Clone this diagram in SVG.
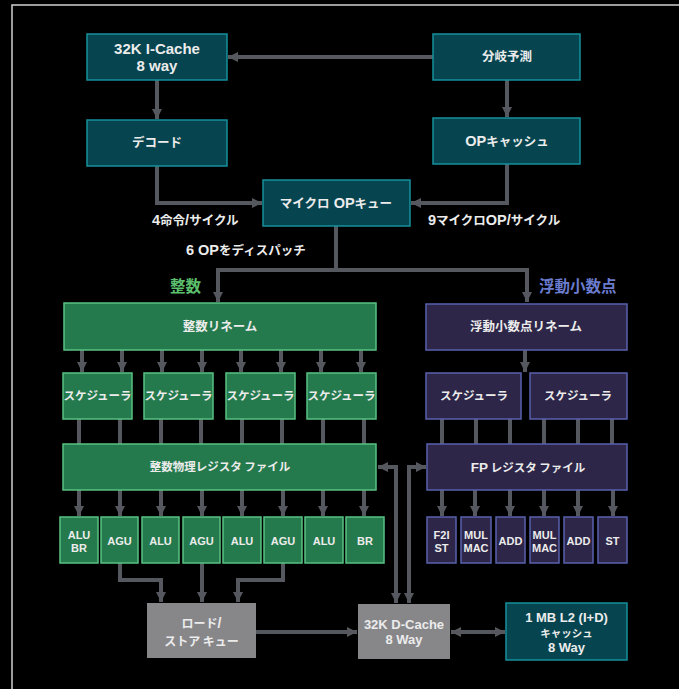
<svg xmlns="http://www.w3.org/2000/svg" width="679" height="689" viewBox="0 0 679 689">
<defs>
<style>
.bg{fill:#000}
.teal{fill:#06454f;stroke:#16909b;stroke-width:1.5}
.grn{fill:#247a4d;stroke:#58c283;stroke-width:1.5}
.pur{fill:#2d2648;stroke:#5a62ae;stroke-width:1.5}
.gry{fill:#87878a}
text{font-family:"Noto Sans CJK JP","Noto Sans",sans-serif;font-weight:bold;fill:#ececec;text-anchor:middle;font-size:12.5px}
.L{font-family:"Liberation Sans",Arial,"Noto Sans CJK JP",sans-serif;font-weight:bold}
.s{font-size:11.5px}
.u{font-family:"Liberation Sans",Arial,sans-serif;font-weight:bold;font-size:11px}
.lbl{text-anchor:start}
.c{fill:none;stroke:#56585f;stroke-width:4}
</style>
<marker id="ah" viewBox="0 0 10 10" refX="10" refY="5" markerWidth="10" markerHeight="10" markerUnits="userSpaceOnUse" orient="auto-start-reverse">
<path d="M0,0 L10,5 L0,10 z" fill="#56585f"/>
</marker>
</defs>
<rect class="bg" x="0" y="0" width="679" height="689"/>
<path d="M12,689 V5 H679" fill="none" stroke="#d0d0d0" stroke-width="1.5"/>

<g id="connectors">
<path class="c" d="M433,57 H228" marker-end="url(#ah)"/>
<path class="c" d="M157,80 V119" marker-end="url(#ah)"/>
<path class="c" d="M507,80 V117" marker-end="url(#ah)"/>
<path class="c" d="M157,166 V203 H262" marker-end="url(#ah)"/>
<path class="c" d="M507,164 V203 H411" marker-end="url(#ah)"/>
<path class="c" d="M336,226 V270"/>
<path class="c" d="M218,270 H527"/>
<path class="c" d="M218,268 V302" marker-end="url(#ah)"/>
<path class="c" d="M527,268 V302" marker-end="url(#ah)"/>
<path class="c" d="M82,350 V372" marker-end="url(#ah)"/>
<path class="c" d="M122,350 V372" marker-end="url(#ah)"/>
<path class="c" d="M162,350 V372" marker-end="url(#ah)"/>
<path class="c" d="M202,350 V372" marker-end="url(#ah)"/>
<path class="c" d="M241,350 V372" marker-end="url(#ah)"/>
<path class="c" d="M281,350 V372" marker-end="url(#ah)"/>
<path class="c" d="M321,350 V372" marker-end="url(#ah)"/>
<path class="c" d="M361,350 V372" marker-end="url(#ah)"/>
<path class="c" d="M79,419 V444 M120,419 V444 M161,419 V444 M201,419 V444 M242,419 V444 M282,419 V444 M323,419 V444 M364,419 V444"/>
<path class="c" d="M79,490 V516" marker-end="url(#ah)"/>
<path class="c" d="M120,490 V516" marker-end="url(#ah)"/>
<path class="c" d="M161,490 V516" marker-end="url(#ah)"/>
<path class="c" d="M202,490 V516" marker-end="url(#ah)"/>
<path class="c" d="M242,490 V516" marker-end="url(#ah)"/>
<path class="c" d="M283,490 V516" marker-end="url(#ah)"/>
<path class="c" d="M323,490 V516" marker-end="url(#ah)"/>
<path class="c" d="M364,490 V516" marker-end="url(#ah)"/>
<path class="c" d="M120,563 V580 H161 V602" marker-end="url(#ah)"/>
<path class="c" d="M202,563 V602" marker-end="url(#ah)"/>
<path class="c" d="M283,563 V580 H238 V602" marker-end="url(#ah)"/>
<path class="c" d="M525,350 V372" marker-end="url(#ah)"/>
<path class="c" d="M442,419 V444 M476,419 V444 M510,419 V444 M544,419 V444 M578,419 V444 M612,419 V444"/>
<path class="c" d="M442,490 V516" marker-end="url(#ah)"/>
<path class="c" d="M475,490 V516" marker-end="url(#ah)"/>
<path class="c" d="M510,490 V516" marker-end="url(#ah)"/>
<path class="c" d="M544,490 V516" marker-end="url(#ah)"/>
<path class="c" d="M578,490 V516" marker-end="url(#ah)"/>
<path class="c" d="M613,490 V516" marker-end="url(#ah)"/>
<path class="c" d="M378,467 H396 V603" marker-start="url(#ah)" marker-end="url(#ah)"/>
<path class="c" d="M426,467 H409 V603" marker-start="url(#ah)" marker-end="url(#ah)"/>
<path class="c" d="M256,632 H357" marker-end="url(#ah)"/>
<path class="c" d="M451,632 H505" marker-start="url(#ah)" marker-end="url(#ah)"/>
</g>

<g id="icache"><rect class="teal" x="87" y="34" width="140" height="46"/><text class="L" style="font-size:15px" x="157" y="53.5">32K I-Cache</text><text class="L" style="font-size:15px" x="157" y="70.5">8 way</text></g>
<g id="branch"><rect class="teal" x="433" y="34" width="147" height="46"/><text x="507" y="61">分岐予測</text></g>
<g id="decode"><rect class="teal" x="87" y="120" width="140" height="46"/><text x="157" y="147">デコード</text></g>
<g id="opcache"><rect class="teal" x="433" y="118" width="147" height="46"/><text x="507" y="146"><tspan class="L" style="font-size:14.5px">OP</tspan>キャッシュ</text></g>
<g id="uopq"><rect class="teal" x="263" y="180" width="147" height="46"/><text x="336" y="208">マイクロ<tspan class="L" style="font-size:14.5px"> OP</tspan>キュー</text></g>

<g id="labels">
<text class="lbl" x="152" y="225"><tspan class="L" style="font-size:14.5px">4</tspan>命令<tspan class="L" style="font-size:14.5px">/</tspan>サイクル</text>
<text class="lbl" x="428" y="225"><tspan class="L" style="font-size:14.5px">9</tspan>マイクロ<tspan class="L" style="font-size:14.5px">OP/</tspan>サイクル</text>
<text class="lbl" x="186" y="255"><tspan class="L" style="font-size:14.5px">6 OP</tspan>をディスパッチ</text>
<text class="lbl" x="170" y="292" style="fill:#5cc06e;font-size:15.5px">整数</text>
<text class="lbl" x="539" y="292" style="fill:#6b7ccf;font-size:15.5px">浮動小数点</text>
</g>

<g id="int-rename"><rect class="grn" x="64" y="303" width="312" height="47"/><text x="220" y="331">整数リネーム</text></g>
<g id="int-sch1"><rect class="grn" x="63" y="373" width="69" height="46"/><text class="s" x="97.5" y="400">スケジューラ</text></g>
<g id="int-sch2"><rect class="grn" x="144" y="373" width="69" height="46"/><text class="s" x="178.5" y="400">スケジューラ</text></g>
<g id="int-sch3"><rect class="grn" x="226" y="373" width="69" height="46"/><text class="s" x="260.5" y="400">スケジューラ</text></g>
<g id="int-sch4"><rect class="grn" x="307" y="373" width="69" height="46"/><text class="s" x="341.5" y="400">スケジューラ</text></g>
<g id="int-regfile"><rect class="grn" x="63" y="444" width="313" height="46"/><text class="s" x="220" y="471">整数物理レジスタ ファイル</text></g>

<g id="int-u1"><rect class="grn" x="60" y="517" width="38" height="46"/><text class="u" x="79" y="539">ALU</text><text class="u" x="79" y="551.5">BR</text></g>
<g id="int-u2"><rect class="grn" x="101" y="517" width="37" height="46"/><text class="u" x="119.5" y="544.5">AGU</text></g>
<g id="int-u3"><rect class="grn" x="142" y="517" width="37" height="46"/><text class="u" x="160.5" y="544.5">ALU</text></g>
<g id="int-u4"><rect class="grn" x="183" y="517" width="37" height="46"/><text class="u" x="201.5" y="544.5">AGU</text></g>
<g id="int-u5"><rect class="grn" x="223" y="517" width="38" height="46"/><text class="u" x="242" y="544.5">ALU</text></g>
<g id="int-u6"><rect class="grn" x="264" y="517" width="38" height="46"/><text class="u" x="283" y="544.5">AGU</text></g>
<g id="int-u7"><rect class="grn" x="305" y="517" width="38" height="46"/><text class="u" x="324" y="544.5">ALU</text></g>
<g id="int-u8"><rect class="grn" x="346" y="517" width="38" height="46"/><text class="u" x="365" y="544.5">BR</text></g>

<g id="fp-rename"><rect class="pur" x="426" y="304" width="201" height="46"/><text x="526" y="331">浮動小数点リネーム</text></g>
<g id="fp-sch1"><rect class="pur" x="426" y="373" width="95" height="46"/><text class="s" x="474" y="400">スケジューラ</text></g>
<g id="fp-sch2"><rect class="pur" x="530" y="373" width="97" height="46"/><text class="s" x="578" y="400">スケジューラ</text></g>
<g id="fp-regfile"><rect class="pur" x="427" y="444" width="200" height="46"/><text class="s" x="528" y="472"><tspan class="L" style="font-size:13.5px">FP</tspan> レジスタ ファイル</text></g>
<g id="fp-u1"><rect class="pur" x="427" y="517" width="29" height="46"/><text class="u" x="441.5" y="539">F2I</text><text class="u" x="441.5" y="551.5">ST</text></g>
<g id="fp-u2"><rect class="pur" x="461" y="517" width="30" height="46"/><text class="u" x="476" y="539">MUL</text><text class="u" x="476" y="551.5">MAC</text></g>
<g id="fp-u3"><rect class="pur" x="496" y="517" width="29" height="46"/><text class="u" x="510.5" y="544.5">ADD</text></g>
<g id="fp-u4"><rect class="pur" x="530" y="517" width="29" height="46"/><text class="u" x="544.5" y="539">MUL</text><text class="u" x="544.5" y="551.5">MAC</text></g>
<g id="fp-u5"><rect class="pur" x="564" y="517" width="29" height="46"/><text class="u" x="578.5" y="544.5">ADD</text></g>
<g id="fp-u6"><rect class="pur" x="598" y="517" width="29" height="46"/><text class="u" x="612.5" y="544.5">ST</text></g>

<g id="lsq"><rect class="gry" x="147" y="603" width="109" height="55"/><text style="font-size:12px" x="201.5" y="628">ロード<tspan class="L" style="font-size:14px">/</tspan></text><text style="font-size:12px" x="201.5" y="645.5">ストア キュー</text></g>
<g id="dcache"><rect class="gry" x="358" y="604" width="92" height="55"/><text class="L" style="font-size:13px" x="404" y="629">32K D-Cache</text><text class="L" style="font-size:13px" x="404" y="644">8 Way</text></g>
<g id="l2"><rect class="teal" x="506" y="603" width="121" height="57"/><text class="L" style="font-size:13px" x="566.5" y="622">1 MB L2 (I+D)</text><text style="font-size:10.5px" x="566.5" y="637">キャッシュ</text><text class="L" style="font-size:13px" x="566.5" y="652">8 Way</text></g>
</svg>
